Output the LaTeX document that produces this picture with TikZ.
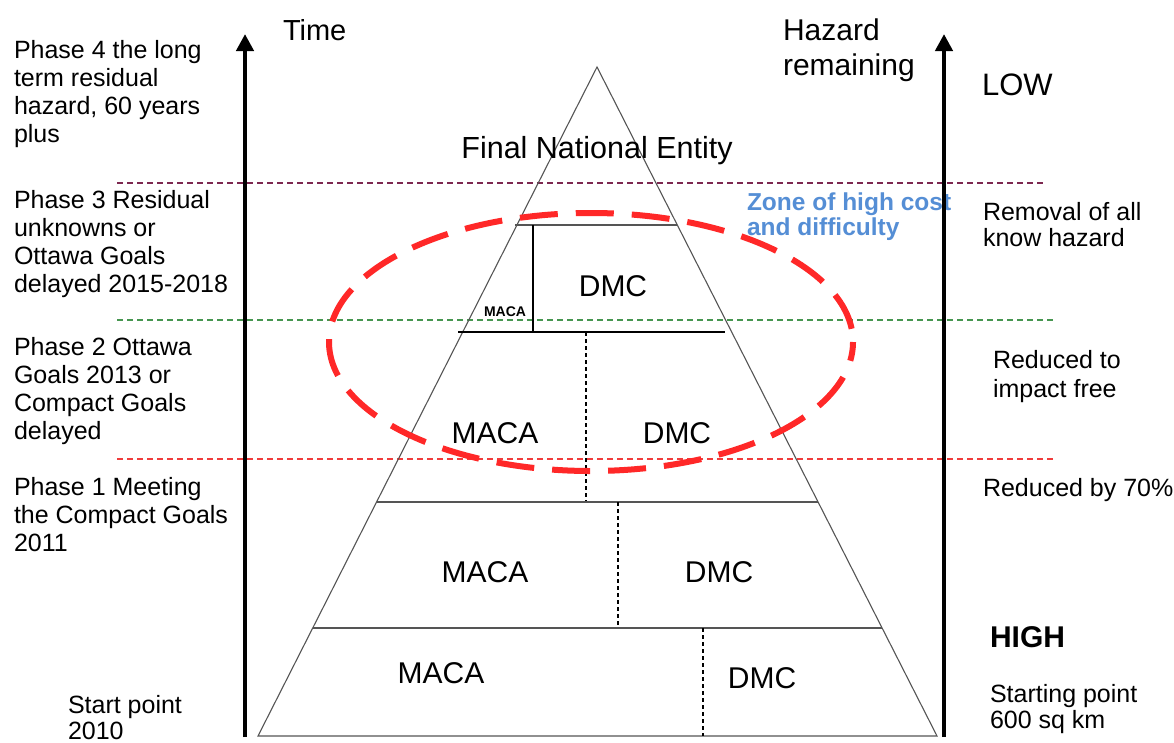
\documentclass[tikz,border=0pt]{standalone}
\usepackage{fontspec}
\setmainfont{Liberation Sans}
\usetikzlibrary{arrows.meta}
\definecolor{maroonline}{RGB}{125,40,80}
\definecolor{greenline}{RGB}{70,150,80}
\definecolor{redline}{RGB}{240,60,60}
\definecolor{ellred}{RGB}{255,40,40}
\definecolor{zoneblue}{RGB}{85,142,213}
\definecolor{pyrgray}{RGB}{85,85,85}
\begin{document}
\begin{tikzpicture}[x=1pt,y=-1pt,
  txt/.style={inner sep=0pt, outer sep=0pt, font=\fontsize{25}{28}\selectfont, align=left, anchor=north west},
  lbl/.style={inner sep=0pt, outer sep=0pt, anchor=base west},
  cell/.style={inner sep=0pt, outer sep=0pt, font=\fontsize{30}{34}\selectfont, anchor=base},
  phaseline/.style={line width=2pt, dash pattern=on 6pt off 4pt},
  pyr/.style={draw=pyrgray, line width=1.1pt},
  inner/.style={draw=black, line width=1.3pt},
  divider/.style={draw=black, line width=2pt, dash pattern=on 4pt off 3pt},
  axisarrow/.style={draw=black, line width=4.5pt, -{Triangle[length=17pt,width=17pt]}},
]
\useasboundingbox (0,0) rectangle (1174,742);

% phase separators
\coordinate (m1) at (117,183); \coordinate (m2) at (1045,183);
\coordinate (g1) at (117,320); \coordinate (g2) at (1055,320);
\coordinate (r1) at (117,459); \coordinate (r2) at (1055,459);
\draw[phaseline, maroonline] (m1) -- (m2);
\draw[phaseline, greenline] (g1) -- (g2);
\draw[phaseline, redline] (r1) -- (r2);

% pyramid
\coordinate (apex) at (597,67);
\coordinate (bl) at (258,736);
\coordinate (br) at (937,736);
\draw[pyr] (apex) -- (bl) -- (br) -- cycle;
\coordinate (t1) at (515,225); \coordinate (t2) at (677,225);
\draw[draw=pyrgray, line width=1.2pt] (t1) -- (t2);
\coordinate (v1) at (533,225); \coordinate (v2) at (533,332);
\draw[inner] (v1) -- (v2);
\coordinate (h1) at (458,332); \coordinate (h2) at (725,332);
\draw[inner] (h1) -- (h2);
\coordinate (d1) at (586,332); \coordinate (d2) at (586,502);
\draw[divider] (d1) -- (d2);
\coordinate (k1) at (377,502); \coordinate (k2) at (818,502);
\draw[pyr] (k1) -- (k2);
\coordinate (e1) at (618,502); \coordinate (e2) at (618,628);
\draw[divider] (e1) -- (e2);
\coordinate (j1) at (313,628); \coordinate (j2) at (882,628);
\draw[pyr] (j1) -- (j2);
\coordinate (f1) at (703,628); \coordinate (f2) at (703,736);
\draw[divider] (f1) -- (f2);

% pyramid labels
\node[cell, font=\fontsize{30.5}{34}\selectfont] (fne) at (597,158) {Final National Entity};
\node[cell] (dmc1) at (613,296) {DMC};
\node[cell, font=\bfseries\fontsize{14}{16}\selectfont] (maca1) at (505,316) {MACA};
\node[cell] (maca2) at (495,443) {MACA};
\node[cell] (dmc2) at (677,443) {DMC};
\node[cell] (maca3) at (485,582) {MACA};
\node[cell] (dmc3) at (719,582) {DMC};
\node[cell] (maca4) at (441,683) {MACA};
\node[cell] (dmc4) at (762,688) {DMC};

% left texts
\node[txt] (p4) at (14,40) {Phase 4 the long\\term residual\\hazard, 60 years\\plus};
\node[txt] (p3) at (14,190) {Phase 3 Residual\\unknowns or\\Ottawa Goals\\delayed 2015-2018};
\node[txt] (p2) at (14,337) {Phase 2 Ottawa\\Goals 2013 or\\Compact Goals\\delayed};
\node[txt] (p1) at (14,477) {Phase 1 Meeting\\the Compact Goals\\2011};
\node[txt, font=\fontsize{25}{26}\selectfont] (sp) at (68,695) {Start point\\2010};

% top labels
\node[lbl, font=\fontsize{29}{34}\selectfont] (time) at (283,40) {Time};
\node[txt, font=\fontsize{30}{35}\selectfont] (haz) at (783,18.5) {Hazard\\remaining};

% right texts
\node[lbl, font=\fontsize{31}{34}\selectfont] (low) at (982,95) {LOW};
\node[txt, font=\fontsize{25}{26}\selectfont] (rem) at (983,202) {Removal of all\\know hazard};
\node[txt, font=\fontsize{25}{29}\selectfont] (red) at (993,350) {Reduced to\\impact free};
\node[lbl, font=\fontsize{25}{28}\selectfont] (r70) at (983,496) {Reduced by 70\%};
\node[lbl, font=\bfseries\fontsize{30}{34}\selectfont] (high) at (990,647) {HIGH};
\node[txt, font=\fontsize{25}{26}\selectfont] (stp) at (990,684) {Starting point\\600 sq km};

% zone text
\node[txt, font=\bfseries\fontsize{24.5}{25}\selectfont, text=zoneblue] (zone) at (747,192.5) {Zone of high cost\\and difficulty};

% ellipse
\draw[ellred, line width=6pt, dash pattern=on 38pt off 18pt, dash phase=19pt] (591,342) ellipse [x radius=262, y radius=129];

% axes
\coordinate (la0) at (245,737); \coordinate (la1) at (245,34);
\coordinate (ra0) at (944,737); \coordinate (ra1) at (944,34);
\draw[axisarrow] (la0) -- (la1);
\draw[axisarrow] (ra0) -- (ra1);
\end{tikzpicture}
\end{document}
